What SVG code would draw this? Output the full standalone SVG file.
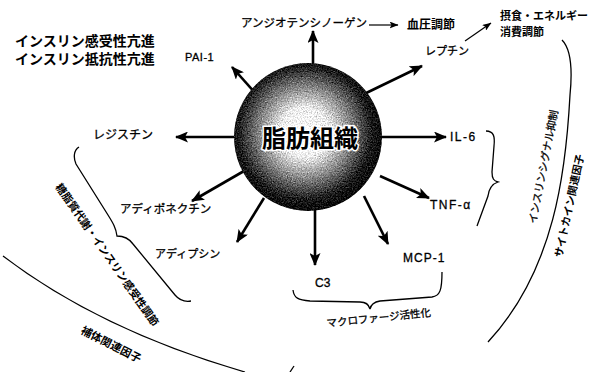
<svg xmlns="http://www.w3.org/2000/svg" width="590" height="372" viewBox="0 0 590 372">
<style>
.jp{font-family:"Noto Sans CJK JP","Noto Sans",sans-serif;fill:#000;stroke:#000;stroke-width:0.3}
.b{font-weight:700;stroke-width:0}
.lat{font-family:"Liberation Sans",Arial,sans-serif;fill:#000;stroke:#000;stroke-width:0.3}
.arr{stroke:#000;stroke-width:2.6;fill:none;marker-end:url(#ah)}
.thin{stroke:#000;stroke-width:1.2;fill:none;marker-end:url(#ahs)}
.crv{stroke:#000;stroke-width:1.3;fill:none}
</style>
<defs>
<marker id="ah" viewBox="0 0 13 11" refX="12" refY="5.5" markerWidth="13" markerHeight="11" markerUnits="userSpaceOnUse" orient="auto"><path d="M0,0 L13,5.5 L0,11 L3,5.5 z" fill="#000"/></marker>
<marker id="ahs" viewBox="0 0 9 7" refX="8.5" refY="3.5" markerWidth="9" markerHeight="7" markerUnits="userSpaceOnUse" orient="auto"><path d="M0,0 L9,3.5 L0,7 L2,3.5 z" fill="#000"/></marker>
<radialGradient id="fat" cx="0.48" cy="0.47" r="0.55">
<stop offset="0" stop-color="#fff"/>
<stop offset="0.3" stop-color="#f0f0f0"/>
<stop offset="0.58" stop-color="#808080"/>
<stop offset="0.82" stop-color="#1c1c1c"/>
<stop offset="1" stop-color="#000"/>
</radialGradient>
<filter id="grain" x="0" y="0" width="1" height="1" color-interpolation-filters="sRGB">
<feTurbulence type="fractalNoise" baseFrequency="0.8" numOctaves="2" seed="4" result="n"/>
<feColorMatrix in="n" type="matrix" values="0.33 0.33 0.33 0 0 0.33 0.33 0.33 0 0 0.33 0.33 0.33 0 0 0 0 0 0 1" result="g"/>
<feComposite in="SourceGraphic" in2="g" operator="arithmetic" k1="0" k2="1" k3="1.2" k4="-0.6" result="m"/>
<feComposite in="m" in2="SourceAlpha" operator="in"/>
</filter>
</defs>
<rect width="590" height="372" fill="#fff"/>

<g id="connectors">
<line class="arr" x1="313" y1="70" x2="313" y2="31"/>
<line class="arr" x1="360" y1="96" x2="422" y2="66"/>
<line class="arr" x1="256" y1="94" x2="232" y2="67"/>
<line class="arr" x1="236" y1="137" x2="176" y2="137"/>
<line class="arr" x1="244" y1="171" x2="192" y2="201"/>
<line class="arr" x1="264" y1="198" x2="237" y2="242"/>
<line class="arr" x1="315" y1="205" x2="315" y2="265"/>
<line class="arr" x1="364" y1="196" x2="388" y2="244"/>
<line class="arr" x1="380" y1="137" x2="446" y2="137"/>
<line class="arr" x1="380" y1="176" x2="429" y2="198"/>
<line class="thin" x1="369" y1="25" x2="398" y2="25"/>
<line class="thin" x1="465" y1="41" x2="491" y2="23"/>
</g>

<g id="braces">
<path class="crv" d="M486,131 C494,131 495,137 494,146 L492,172 C492,179 494,181 498,182 C492,184 489,188 488,196 L477,226"/>
<path class="crv" d="M562,40 C572,50 572,75 570,95 C566,170 555,270 488,342"/>
<path class="crv" d="M293,290 C294,298 298,300 310,301 L360,302 C366,302 369,305 370,309 C371,304 374,302 380,301 L432,297 C440,296 442,290 442,272"/>
<path class="crv" d="M79,147 C74,150 73,157 76,164 L108,215 C113,223 116,228 117,236 C122,236 128,237 133,244 L175,295 C180,301 185,302 191,301"/>
<path class="crv" d="M3,256 Q100,330 245,372"/>
<path class="crv" d="M290,372 L294,366"/>
</g>

<g id="node-fat">
<circle cx="308" cy="137" r="74" fill="url(#fat)" filter="url(#grain)"/>
<text class="jp b" x="310" y="147" font-size="24" text-anchor="middle" stroke="#fff" stroke-width="3" paint-order="stroke" style="stroke:#fff;stroke-width:3">脂肪組織</text>
</g>

<g id="node-legend">
<text class="jp b" x="15" y="46" font-size="14">インスリン感受性亢進</text>
<text class="jp b" x="15" y="64" font-size="14">インスリン抵抗性亢進</text>
</g>
<g id="node-pai1"><text class="lat" x="185" y="61" font-size="11" letter-spacing="0.5">PAI-1</text></g>
<g id="node-angiotensinogen"><text class="jp" x="241" y="27" font-size="11.5">アンジオテンシノーゲン</text></g>
<g id="node-bp"><text class="jp b" x="407" y="29" font-size="12">血圧調節</text></g>
<g id="node-leptin"><text class="jp" x="425" y="55" font-size="11">レプチン</text></g>
<g id="node-energy">
<text class="jp b" x="500" y="20" font-size="11">摂食・エネルギー</text>
<text class="jp b" x="500" y="36" font-size="11">消費調節</text>
</g>
<g id="node-resistin"><text class="jp" x="93" y="139" font-size="12">レジスチン</text></g>
<g id="node-adiponectin"><text class="jp" x="120" y="213" font-size="11.5">アディポネクチン</text></g>
<g id="node-adipsin"><text class="jp" x="155" y="258" font-size="11">アディプシン</text></g>
<g id="node-c3"><text class="lat" x="315" y="287" font-size="12">C3</text></g>
<g id="node-mcp1"><text class="lat" x="403" y="262" font-size="12" letter-spacing="1">MCP-1</text></g>
<g id="node-il6"><text class="lat" x="450" y="141" font-size="12" letter-spacing="1.5">IL-6</text></g>
<g id="node-tnf"><text class="lat" x="430" y="209" font-size="12" letter-spacing="1.5">TNF-α</text></g>

<g id="labels">
<text class="jp" font-size="10.5" transform="translate(327,327) rotate(-6)">マクロファージ活性化</text>
<text class="jp" font-size="10.5" transform="translate(536,224) rotate(-79)">インスリンシグナル抑制</text>
<text class="jp b" font-size="10.5" transform="translate(562,258) rotate(-78)">サイトカイン関連因子</text>
<text class="jp b" font-size="10.7" transform="translate(55,187) rotate(55)">糖脂質代謝・インスリン感受性調節</text>
<text class="jp b" font-size="11" transform="translate(80,333) rotate(27)">補体関連因子</text>
</g>
</svg>
